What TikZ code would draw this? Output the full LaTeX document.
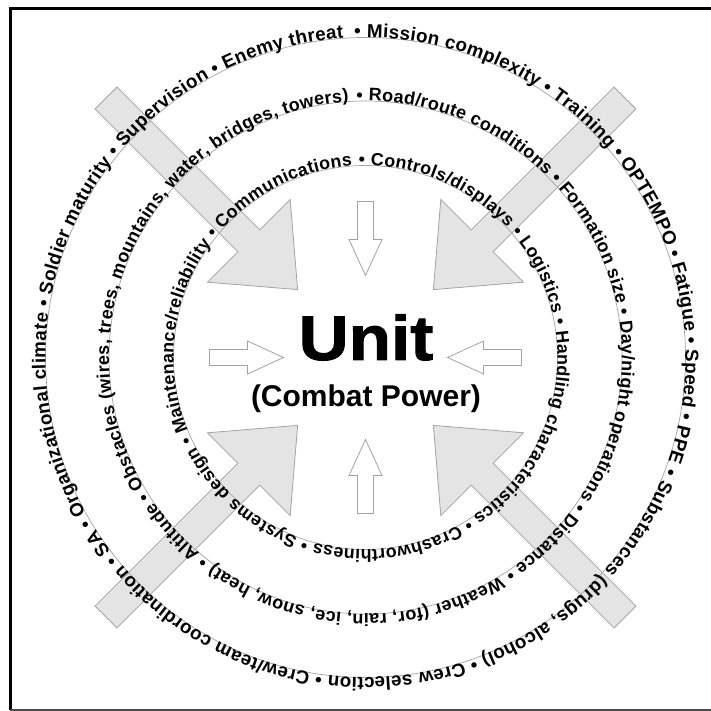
\documentclass[tikz,border=0pt]{standalone}
\usepackage{fontspec}
\setmainfont{Liberation Sans}
\newfontfamily\unitfont[FakeStretch=1.1,FakeBold=1.5]{Liberation Sans}
\usetikzlibrary{decorations.text}
\definecolor{fondgris}{HTML}{E4E4E4}
\definecolor{traitgris}{HTML}{A3A3A3}
\tikzset{
  grosse/.style={draw=traitgris, fill=fondgris, line width=0.8pt},
  petite/.style={draw=traitgris, fill=white, line width=0.8pt},
  cercle/.style={draw=traitgris, line width=0.7pt},
  texte/.style n args={2}{decorate, decoration={text along path, text align={fit to path},
    text={|\bfseries\fontsize{#1}{#1}\selectfont|#2}}}
}
\begin{document}
\begin{tikzpicture}[x=1pt,y=1pt]
  \useasboundingbox (0,0) rectangle (711,711);
  \coordinate (c) at (365.5,353.5);

  %cadre
  \draw[line width=3pt] (10,1) -- (10,702) -- (711,702);
  \draw[black!70, line width=2pt] (10,1) -- (711,1);

  %grosses fleches
  \foreach \a in {45,135,225,315}
    \draw[grosse, shift={(c)}, rotate=\a] (96,0) -- (165,58.5) -- (165,15.5) -- (367,15.5)
      -- (367,-15.5) -- (165,-15.5) -- (165,-58.5) -- cycle;

  %petites fleches
  \foreach \a in {0,90,180,270}
    \draw[petite, shift={(c)}, rotate=\a] (82,0) -- (118,16.5) -- (118,8) -- (156,8)
      -- (156,-8) -- (118,-8) -- (118,-16.5) -- cycle;

  %cercles
  \foreach \r in {192,256.5,320}
    \draw[cercle] (c) circle (\r);

  %textes
  \path[texte={18.8}{• Mission complexity • Training • OPTEMPO • Fatigue • Speed • PPE • Substances (drugs, alcohol) • Crew selection • Crew/team coordination • SA • Organizational climate • Soldier maturity • Supervision • Enemy threat}]
    (c) ++(92:320) arc[start angle=92, end angle=-266, radius=320];
  \path[texte={18}{• Road/route conditions • Formation size • Day/night operations • Distance • Weather (for, rain, ice, snow, heat) • Altitude • Obstacles (wires, trees, mountains, water, bridges, towers)}]
    (c) ++(92:256.5) arc[start angle=92, end angle=-266, radius=256.5];
  \path[texte={17.8}{• Controls/displays • Logistics • Handling characteristics • Crashworthiness • Systems design • Maintenance/reliability • Communications}]
    (c) ++(92:192) arc[start angle=92, end angle=-266, radius=192];

  %centre
  \node[anchor=base, font=\unitfont\bfseries\fontsize{63}{63}\selectfont] (unit) at (366,351) {Unit};
  \node[anchor=base, font=\bfseries\fontsize{30}{30}\selectfont] (power) at (366,304) {(Combat Power)};
\end{tikzpicture}
\end{document}
